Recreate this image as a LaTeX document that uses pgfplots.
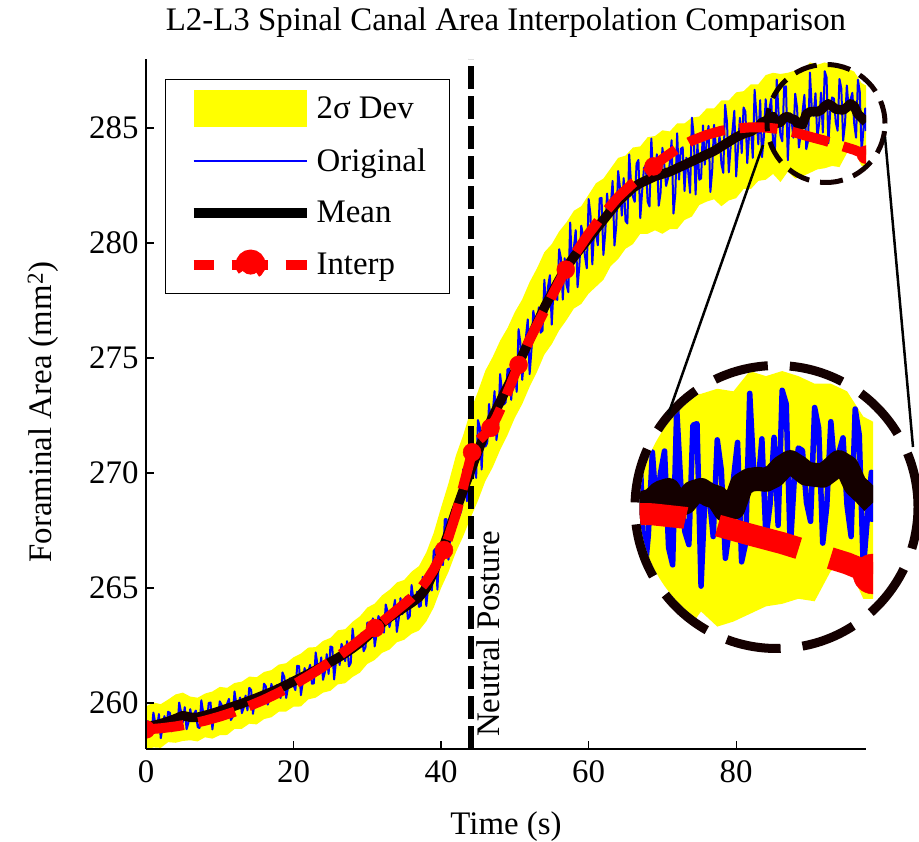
\documentclass[border=0pt]{standalone}
\usepackage{pgfplots}
\pgfplotsset{compat=1.18}
\usepackage{pgfplotstable}
\usepackage{fontspec}
\setmainfont{Liberation Serif}
\newcommand{\fsz}{\fontsize{33}{40}\selectfont}
\definecolor{meanc}{RGB}{20,0,0}
\definecolor{yel}{RGB}{255,255,0}

\pgfplotstableread{
x y
0 259.85
1 260.02
2 259.95
3 260.15
4 260.37
5 260.45
6 260.28
7 260.23
8 260.41
9 260.50
10 260.70
11 260.66
12 260.87
13 260.93
14 261.15
15 261.12
16 261.35
17 261.43
18 261.67
19 261.73
20 261.99
21 262.15
22 262.41
23 262.43
24 262.70
25 262.83
26 263.16
27 263.21
28 263.53
29 263.77
30 264.15
31 264.32
32 264.68
33 264.92
34 265.24
35 265.35
36 265.71
37 265.95
38 266.55
39 267.40
40 268.50
41 269.55
42 270.75
43 271.65
44 272.70
45 273.55
46 274.45
47 275.05
48 275.75
49 276.30
50 277.00
51 277.55
52 278.30
53 278.90
54 279.60
55 279.95
56 280.50
57 280.90
58 281.40
59 281.60
60 282.10
61 282.60
62 282.80
63 283.25
64 283.70
65 283.80
66 284.15
67 284.20
68 284.60
69 284.65
70 284.90
71 284.85
72 285.20
73 285.20
74 285.45
75 285.50
76 285.85
77 285.85
78 286.20
79 286.20
80 286.55
81 286.60
82 286.90
83 286.90
84 287.30
85 287.40
86 287.35
87 287.40
88 287.50
89 287.45
90 287.85
91 287.75
92 287.85
93 287.75
94 287.60
95 287.60
96 287.45
97 286.95
97.6 286.85
97.6 283.35
97 283.35
96 284.05
95 283.90
94 283.30
93 283.35
92 283.25
91 283.20
90 283.05
89 282.90
88 282.80
87 283.10
86 282.65
85 283.00
84 282.75
83 282.70
82 282.35
81 282.35
80 281.95
79 281.85
78 281.60
77 281.90
76 281.80
75 281.65
74 281.15
73 281.00
72 280.60
71 280.60
70 280.40
69 280.55
68 280.40
67 280.40
66 279.95
65 279.75
64 279.30
63 279.00
62 278.40
61 278.10
60 277.80
59 277.35
58 277.15
57 276.65
56 276.20
55 275.60
54 275.15
53 274.40
52 273.75
51 273.00
50 272.40
49 271.65
48 271.00
47 270.25
46 269.65
45 268.80
44 268.05
43 267.25
42 266.55
41 265.70
40 265.00
39 264.15
38 263.55
37 263.15
36 263.01
35 262.75
34 262.64
33 262.32
32 262.18
31 261.87
30 261.70
29 261.32
28 261.13
27 260.86
26 260.81
25 260.53
24 260.45
23 260.23
22 260.16
21 259.85
20 259.84
19 259.63
18 259.62
17 259.38
16 259.30
15 259.07
14 259.10
13 258.88
12 258.87
11 258.61
10 258.60
9 258.45
8 258.51
7 258.33
6 258.38
5 258.35
4 258.27
3 258.30
2 258.05
1 258.07
0 257.95
}\bandtab

\pgfplotstableread{
x y
0 259.16
0.25 259.21
0.5 258.64
0.75 258.61
1 259.58
1.25 259.14
1.5 258.92
1.75 259.52
2 258.47
2.25 258.93
2.5 259.43
2.75 258.88
3 259.62
3.25 259.57
3.5 258.77
3.75 259.24
4 259.39
4.25 258.91
4.5 260.02
4.75 259.61
5 259.17
5.25 259.82
5.5 258.86
5.75 259.15
6 259.73
6.25 259.28
6.5 259.52
6.75 259.67
7 258.96
7.25 258.91
7.5 260.12
7.75 259.59
8 259.25
8.25 259.14
8.5 260.00
8.75 260.02
9 258.85
9.25 259.58
9.5 259.60
9.75 259.33
10 260.07
10.25 259.92
10.5 259.36
10.75 259.58
11 259.97
11.25 260.18
11.5 259.26
11.75 259.40
12 260.50
12.25 259.95
12.5 259.86
12.75 260.24
13 259.56
13.25 259.81
13.5 260.32
13.75 259.68
14 260.66
14.25 260.57
14.5 259.53
14.75 260.09
15 260.36
15.25 260.40
15.5 260.08
15.75 259.97
16 260.84
16.25 260.72
16.5 259.93
16.75 260.20
17 260.83
17.25 260.47
17.5 260.62
17.75 260.78
18 260.34
18.25 260.22
18.5 261.33
18.75 261.13
19 260.22
19.25 260.67
19.5 261.07
19.75 261.00
20 260.77
20.25 260.56
20.5 261.62
20.75 261.60
21 260.34
21.25 260.90
21.5 261.52
21.75 261.16
22 261.35
22.25 261.66
22.5 260.84
22.75 260.85
23 262.20
23.25 261.65
23.5 261.26
23.75 261.98
24 261.01
24.25 261.35
24.5 262.12
24.75 261.26
25 262.46
25.25 262.42
25.5 261.02
25.75 261.80
26 262.13
26.25 261.65
26.5 262.57
26.75 262.35
27 261.82
27.25 262.69
27.5 261.59
27.75 261.73
28 263.23
28.25 262.56
28.5 262.33
28.75 262.38
29 262.88
29.25 263.05
29.5 262.25
29.75 262.41
30 263.50
30.25 262.98
30.5 263.06
30.75 263.68
31 262.46
31.25 262.99
31.5 263.78
31.75 263.59
32 263.23
32.25 263.06
32.5 264.28
32.75 263.96
33 263.30
33.25 263.66
33.5 264.00
33.75 264.48
34 263.09
34.25 263.63
34.5 264.56
34.75 263.86
35 264.49
35.25 264.62
35.5 263.66
35.75 263.77
36 265.13
36.25 264.48
36.5 264.40
36.75 264.84
37 264.18
37.25 264.22
37.5 265.48
37.75 265.26
38 264.22
38.25 265.08
38.5 265.48
38.75 264.89
39 266.61
39.25 266.72
39.5 264.93
39.75 266.57
40 266.11
40.25 266.00
40.5 267.99
40.75 267.99
41 266.23
41.25 267.28
41.5 268.40
41.75 268.20
42 268.22
42.25 269.03
42.5 268.15
42.75 268.39
43 270.16
43.25 270.10
43.5 268.77
43.75 269.62
44 270.55
44.25 270.52
44.5 270.23
44.75 269.79
45 272.30
45.25 271.99
45.5 270.15
45.75 271.97
46 271.15
46.25 271.30
46.5 273.00
46.75 272.17
47 272.60
47.25 273.56
47.5 271.43
47.75 272.10
48 274.30
48.25 273.58
48.5 272.98
48.75 273.07
49 274.50
49.25 274.54
49.5 273.18
49.75 274.24
50 274.40
50.25 273.53
50.5 276.25
50.75 275.66
51 274.05
51.25 274.96
51.5 275.90
51.75 276.68
52 274.30
52.25 275.35
52.5 277.05
52.75 276.54
53 276.20
53.25 277.20
53.5 276.10
53.75 276.19
54 278.40
54.25 276.93
54.5 278.10
54.75 278.60
55 276.45
55.25 278.06
55.5 277.95
55.75 277.52
56 279.73
56.25 279.34
56.5 277.54
56.75 279.34
57 278.19
57.25 277.86
57.5 280.89
57.75 279.02
58 279.78
58.25 280.56
58.5 278.08
58.75 279.04
59 280.75
59.25 280.30
59.5 279.43
59.75 278.90
60 281.91
60.25 281.23
60.5 279.07
60.75 280.63
61 280.41
61.25 279.90
61.5 281.94
61.75 281.96
62 279.48
62.25 280.44
62.5 282.15
62.75 281.17
63 281.59
63.25 282.70
63.5 279.89
63.75 280.77
64 283.13
64.25 282.41
64.5 281.19
64.75 282.82
65 280.96
65.25 280.85
65.5 283.85
65.75 282.59
66 282.02
66.25 281.79
66.5 283.45
66.75 283.61
67 281.08
67.25 282.24
67.5 283.25
67.75 283.38
68 281.80
68.25 281.59
68.5 284.54
68.75 282.86
69 282.90
69.25 283.86
69.5 281.62
69.75 282.18
70 284.14
70.25 283.42
70.5 282.48
70.75 282.81
71 283.48
71.25 284.47
71.5 281.28
71.75 282.15
72 284.77
72.25 282.76
72.5 284.09
72.75 284.16
73 282.26
73.25 283.71
73.5 283.10
73.75 282.18
74 285.45
74.25 284.65
74.5 282.11
74.75 284.33
75 282.75
75.25 282.81
75.5 285.11
75.75 283.41
76 284.42
76.25 285.09
76.5 282.22
76.75 283.16
77 285.14
77.25 284.18
77.5 283.91
77.75 284.68
78 283.44
78.25 283.05
78.5 286.01
78.75 285.28
79 283.07
79.25 284.18
79.5 284.88
79.75 285.75
80 282.89
80.25 284.11
80.5 285.44
80.75 283.91
81 285.89
81.25 285.71
81.5 283.47
81.75 284.69
82 285.04
82.25 283.70
82.5 286.66
82.75 285.53
83 284.29
83.25 286.21
83.5 283.73
83.75 284.61
84 286.25
84.25 285.11
84.5 285.83
84.75 286.27
85 284.36
85.25 284.02
85.5 287.10
85.75 285.62
86 284.68
86.25 284.42
86.5 286.78
86.75 286.81
87 283.60
87.25 285.45
87.5 285.40
87.75 284.58
88 286.49
88.25 285.89
88.5 284.15
88.75 284.73
89 285.72
89.25 286.44
89.5 284.08
89.75 284.45
90 287.41
90.25 285.84
90.5 285.53
90.75 286.51
91 284.56
91.25 285.21
91.5 286.54
91.75 284.80
92 287.47
92.25 287.20
92.5 284.34
92.75 285.73
93 286.33
93.25 286.28
93.5 285.25
93.75 284.88
94 287.13
94.25 286.72
94.5 284.45
94.75 285.18
95 286.85
95.25 285.84
95.5 286.24
95.75 286.53
96 285.19
96.25 284.58
96.5 287.10
96.75 286.59
97 283.93
97.25 284.95
97.5 285.85
97.6 284.87
}\bluetab

\pgfplotstableread{
x y
0 258.95
1 259.02
2 259.10
3 259.20
4 259.32
5 259.45
6 259.38
7 259.38
8 259.46
9 259.55
10 259.65
11 259.76
12 259.87
13 259.98
14 260.10
15 260.22
16 260.35
17 260.48
18 260.62
19 260.78
20 260.94
21 261.10
22 261.26
23 261.43
24 261.60
25 261.78
26 261.96
27 262.16
28 262.38
29 262.62
30 262.90
31 263.22
32 263.48
33 263.72
34 263.94
35 264.15
36 264.36
37 264.60
38 265.00
39 265.70
40 266.50
41 267.40
42 268.35
43 269.25
44 270.10
45 270.95
46 271.75
47 272.45
48 273.10
49 273.75
50 274.40
51 275.10
52 275.80
53 276.50
54 277.20
55 277.80
56 278.40
57 278.95
58 279.40
59 279.80
60 280.20
61 280.60
62 281.00
63 281.40
64 281.80
65 282.10
66 282.40
67 282.60
68 282.75
69 282.90
70 283.00
71 283.10
72 283.25
73 283.40
74 283.55
75 283.70
76 283.85
77 284.00
78 284.20
79 284.40
80 284.60
81 284.75
82 284.85
83 285.05
83.5 285.25
84 285.30
84.5 285.45
85 285.50
85.5 285.20
86 285.25
86.5 285.45
87 285.50
87.5 285.40
88 285.35
88.5 285.10
89 285.15
89.5 285.60
90 285.70
90.5 285.72
91 285.70
91.5 285.78
92 285.95
92.5 286.05
93 285.95
93.5 285.82
94 285.80
94.5 285.78
95 285.90
95.5 286.05
96 285.95
96.5 285.60
97 285.45
97.6 285.25
}\meantab

\pgfplotstableread{
x y
0 258.85
2 258.90
4 258.98
6 259.09
8 259.23
10 259.41
12 259.62
14 259.87
16 260.14
18 260.45
20 260.79
22 261.17
24 261.58
26 262.02
28 262.49
30 263.00
31.05 263.26
32 263.52
33 263.78
34 264.04
35 264.30
36 264.58
37 264.90
38 265.30
39 265.80
40 266.40
40.4 266.65
41 267.20
42 268.20
43 269.40
44 270.65
44.2 270.90
45 271.40
46 271.70
46.7 271.96
47.5 272.40
48.5 273.10
49.5 273.90
50.5 274.70
52 275.80
54 277.05
56 278.30
56.9 278.84
58 279.45
60 280.40
62 281.25
64 282.00
66 282.60
68 283.10
68.8 283.33
70 283.65
72 284.10
74 284.45
76 284.70
78 284.88
80 284.98
82 285.03
84 285.02
86 284.95
88 284.80
90 284.62
92 284.45
94 284.25
96 284.05
97.6 283.84
}\redtab

\pgfplotstableread{
x y
0 258.85
31.05 263.26
40.4 266.65
44.2 270.90
46.7 271.96
50.5 274.70
56.9 278.84
68.8 283.33
97.6 283.84
}\marktab

\begin{document}
\begin{tikzpicture}
\useasboundingbox (0bp,0bp) rectangle (919bp,842bp);
\begin{axis}[
  at={(146bp,93bp)}, anchor=south west,
  scale only axis, width=720bp, height=690bp,
  xmin=0, xmax=97.6, ymin=258, ymax=288,
  enlargelimits=false,
  clip marker paths=true,
  axis x line=bottom, axis y line=left,
  axis line style={-, line width=1.2bp},
  tick style={line width=1.2bp, black},
  major tick length=8bp,
  tick align=inside,
  xtick={0,20,40,60,80}, ytick={260,265,270,275,280,285},
  /pgf/number format/assume math mode=true,
  ticklabel style={font=\fsz},
  xticklabel style={yshift=-8bp},
  yticklabel style={xshift=-4bp},
  title={L2-L3 Spinal Canal Area Interpolation Comparison},
  title style={at={(0.5,1.0319)}, anchor=base, font=\fsz},
  xlabel={Time (s)},
  xlabel style={at={(axis description cs:0.5,-0.1232)}, anchor=base, font=\fsz},
  ylabel={Foraminal Area (mm\textsuperscript{2})},
  ylabel style={at={(axis description cs:-0.1306,0.488)}, anchor=base, font=\fsz},
  axis on top,
  legend style={at={(0.0264,0.971)}, anchor=north west,
    draw=black, line width=1.2bp, fill=white,
    inner xsep=23bp, inner ysep=3bp, row sep=0pt, column sep=5bp,
    font=\fsz, nodes={inner sep=0pt}},
  legend cell align=left,
]
\addplot[fill=yel, draw=none,
  legend image code/.code={\fill[yel] (0bp,-18.5bp) rectangle (113bp,18.5bp);
     \path[draw=none,fill=none] (0bp,-26bp) rectangle (113bp,26bp);}] table {\bandtab};
\addlegendentry{2σ Dev}
\addplot[blue, line width=2bp, line join=round,
  legend image code/.code={\draw[blue, solid, line width=2bp] (0bp,0bp) -- (113bp,0bp);
     \path[draw=none,fill=none] (0bp,-26bp) rectangle (113bp,26bp);}] table {\bluetab};
\addlegendentry{Original}
\addplot[black, line width=6bp, dash pattern=on 23bp off 7bp, forget plot] coordinates {(44,258) (44,288)};
\addplot[meanc, line width=9.5bp, line join=round,
  legend image code/.code={\draw[black, solid, line width=10bp] (0bp,0bp) -- (113bp,0bp);
     \path[draw=none,fill=none] (0bp,-26bp) rectangle (113bp,26bp);}] table {\meantab};
\addlegendentry{Mean}
\addplot[red, line width=10bp, dash pattern=on 38bp off 15bp,
  legend image code/.code={\draw[red, solid, line width=10bp] (0bp,0bp) -- (20bp,0bp);
     \draw[red, solid, line width=10bp] (38bp,0bp) -- (74bp,0bp);
     \draw[red, solid, line width=10bp] (92bp,0bp) -- (113bp,0bp);
     \fill[red] (57bp,0bp) circle (10bp);
     \path[draw=none,fill=none] (0bp,-26bp) rectangle (113bp,26bp);}] table {\redtab};
\addlegendentry{Interp}
\addplot[only marks, mark=*, mark size=9bp, red, mark options={fill=red, draw=red, solid}, forget plot] table {\marktab};
\end{axis}

\node[rotate=90, anchor=north west, inner sep=0pt, font=\fsz] at (476bp,105bp) {Neutral Posture};

\begin{scope}
\clip (776.5bp,335bp) circle (137bp);
\begin{axis}[
  at={(619.9bp,174.9bp)}, anchor=south west,
  scale only axis, width=253.1bp, height=318.8bp,
  xmin=82, xmax=97.6, ymin=282, ymax=288.3,
  enlargelimits=false, hide axis, clip marker paths=true,
]
\addplot[fill=yel, draw=none] table {\bandtab};
\addplot[blue, line width=5.5bp, line join=round] table {\bluetab};
\addplot[meanc, line width=24bp, line join=round] table {\meantab};
\addplot[red, line width=22bp, dash pattern=on 84bp off 33bp] table {\redtab};
\addplot[only marks, mark=*, mark size=20bp, red, mark options={fill=red, draw=red, solid}] table {\marktab};
\end{axis}
\end{scope}

\draw[meanc, line width=9bp, dash pattern=on 55bp off 22bp] (776.5bp,335bp) circle (141.5bp);
\draw[meanc, line width=5bp, dash pattern=on 23bp off 11bp] (826bp,718.5bp) circle (59bp);
\draw[black, line width=2.5bp] (763bp,697bp) -- (668bp,427bp);
\draw[black, line width=2.5bp] (885bp,705bp) -- (913bp,395bp);
\end{tikzpicture}
\end{document}
